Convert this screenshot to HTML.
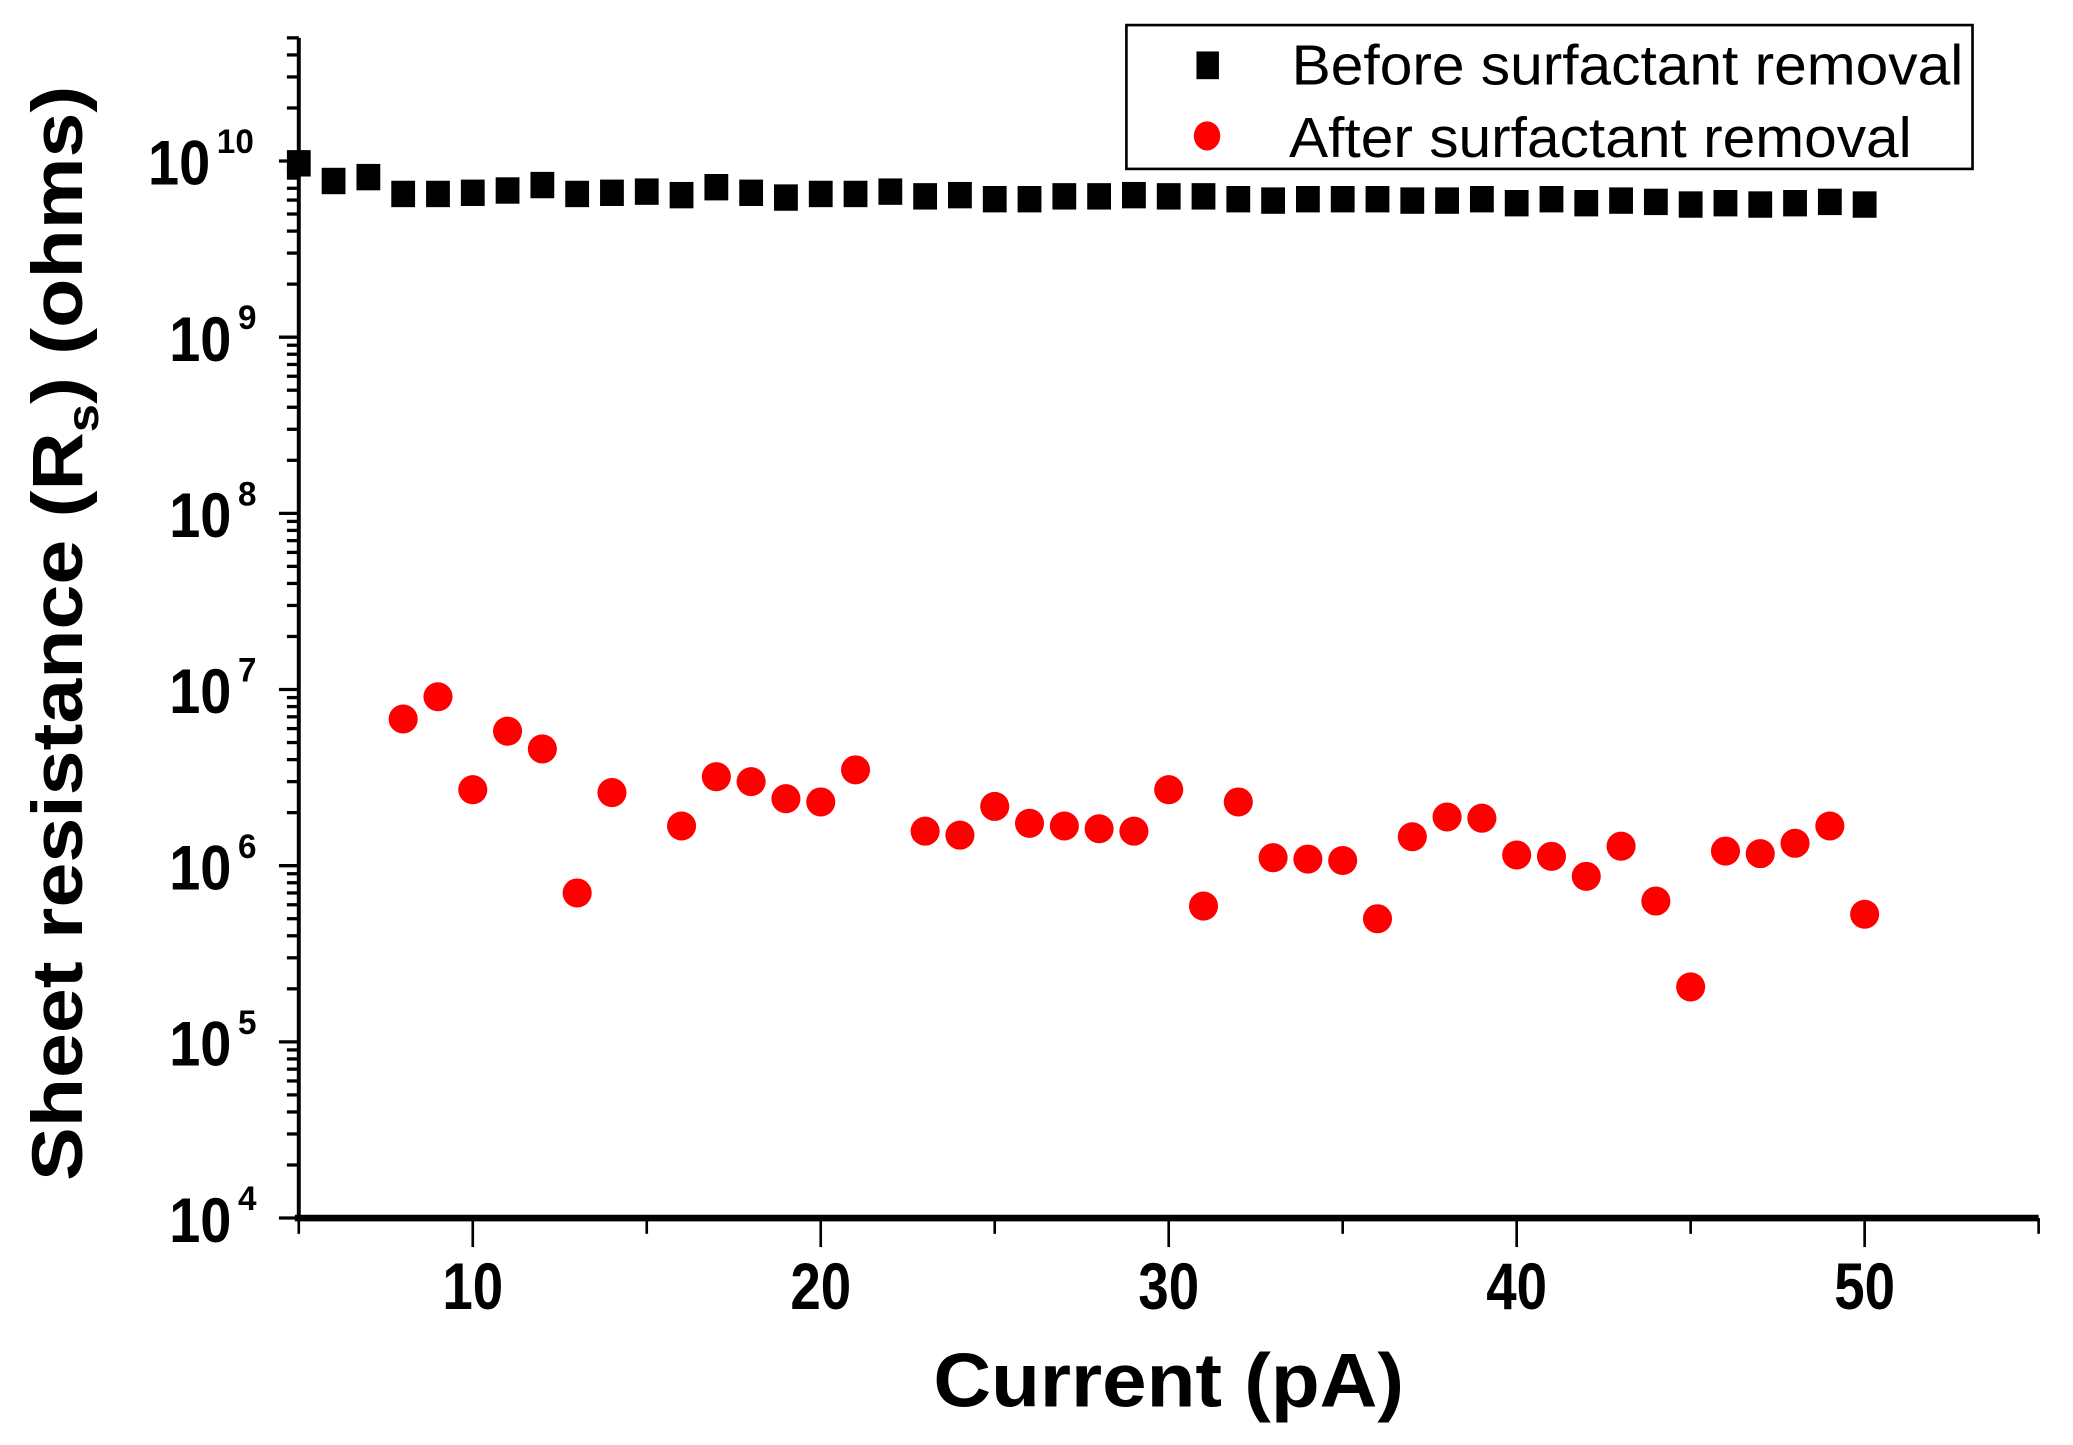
<!DOCTYPE html>
<html><head><meta charset="utf-8"><style>
html,body{margin:0;padding:0;background:#fff;}
svg{display:block;}
text{font-family:"Liberation Sans",Arial,sans-serif;}
</style></head><body>
<svg id="chart" width="2073" height="1445" viewBox="0 0 1568 1095" preserveAspectRatio="none" xmlns="http://www.w3.org/2000/svg">
<g id="axes"></g>
<g id="marks"></g>
<text x="884" y="1066" font-size="58" font-weight="bold" text-anchor="middle" textLength="356" lengthAdjust="spacingAndGlyphs">Current (pA)</text>
<text transform="translate(62,480) rotate(-90)" font-size="54" font-weight="bold" text-anchor="middle" textLength="830" lengthAdjust="spacingAndGlyphs">Sheet resistance (R<tspan font-size="34" dy="12">s</tspan><tspan dy="-12">) (ohms)</tspan></text>
<g>
<rect x="852" y="19" width="640" height="109" fill="#fff" stroke="#000" stroke-width="2"/>
<rect x="905" y="39" width="17" height="21" fill="#000"/>
<text x="977" y="64" font-size="43" textLength="508" lengthAdjust="spacingAndGlyphs">Before surfactant removal</text>
<ellipse cx="913" cy="103" rx="10" ry="11" fill="#ff0000"/>
<text x="975" y="119" font-size="43" textLength="471" lengthAdjust="spacingAndGlyphs">After surfactant removal</text>
</g>
</svg>
<script>
const currentX = [];
for (let i = 5; i <= 50; i++) currentX.push(i);
const beforeValues = [9.7e9,7.7e9,8.1e9,6.5e9,6.5e9,6.6e9,6.8e9,7.3e9,6.5e9,6.6e9,6.7e9,6.4e9,7.1e9,6.6e9,6.2e9,6.5e9,6.5e9,6.7e9,6.3e9,6.4e9,6.07e9,6.07e9,6.3e9,6.3e9,6.4e9,6.3e9,6.3e9,6.07e9,5.96e9,6.07e9,6.07e9,6.07e9,5.96e9,5.96e9,6.07e9,5.76e9,6.07e9,5.76e9,5.96e9,5.86e9,5.66e9,5.76e9,5.66e9,5.76e9,5.86e9,5.66e9];
const afterX = [8,9,10,11,12,13,14,16,17,18,19,20,21,23,24,25,26,27,28,29,30,31,32,33,34,35,36,37,38,39,40,41,42,43,44,45,46,47,48,49,50];
const afterValues = [6.8e6,9.1e6,2.7e6,5.8e6,4.6e6,7.0e5,2.6e6,1.68e6,3.2e6,3.0e6,2.4e6,2.3e6,3.5e6,1.57e6,1.49e6,2.17e6,1.74e6,1.68e6,1.62e6,1.57e6,2.7e6,5.9e5,2.3e6,1.11e6,1.09e6,1.07e6,5.0e5,1.46e6,1.89e6,1.86e6,1.15e6,1.13e6,8.7e5,1.29e6,6.3e5,2.05e5,1.21e6,1.17e6,1.34e6,1.68e6,5.3e5];
const xTickLabels = ["10","20","30","40","50"];
const yTickExponents = ["4","5","6","7","8","9","10"];

const NS = "http://www.w3.org/2000/svg";
const X0 = 226, X1 = 1542, XMIN = 5, XMAX = 55;
const Y4 = 923, DEC = 133.5;
function sx(v){ return X0 + (v - XMIN) / (XMAX - XMIN) * (X1 - X0); }
function sy(v){ return Y4 - (Math.log10(v) - 4) * DEC; }
function mk(tag, attrs, parent){ const e = document.createElementNS(NS, tag); for (const k in attrs) e.setAttribute(k, attrs[k]); parent.appendChild(e); return e; }

const axes = document.getElementById('axes');
const yTop = sy(5e10);
let l = mk('line', {x1:X0, y1:yTop, x2:X0, y2:Y4, stroke:'#000', 'stroke-width':3}, axes);


l = mk('line', {x1:X0-3, y1:Y4, x2:X1, y2:Y4, stroke:'#000', 'stroke-width':5}, axes);



for (let v = 5; v <= 55; v += 5) {
  const major = v % 10 === 0;
  const t = mk('line', {x1:sx(v), y1:Y4, x2:sx(v), y2:Y4 + (major ? 22 : 12), stroke:'#000', 'stroke-width':2}, axes);
  
  
}
xTickLabels.forEach(s => {
  const t = mk('text', {x:sx(+s), y:992, 'font-size':50, 'font-weight':'bold', 'text-anchor':'middle', textLength:46, lengthAdjust:'spacingAndGlyphs'}, axes);
  t.textContent = s;
  
  
});
for (let d = 4; d <= 10; d++) {
  for (let m = 1; m <= 9; m++) {
    const v = m * Math.pow(10, d);
    if (v > 5e10) continue;
    const major = m === 1;
    const t = mk('line', {x1:X0 - (major ? 15 : 9), y1:sy(v), x2:X0, y2:sy(v), stroke:'#000', 'stroke-width':2.5}, axes);
    
    
  }
}
yTickExponents.forEach(e => {
  const y = sy(Math.pow(10, +e));
  const right = e.length > 1 ? 159 : 175;
  const t = mk('text', {x: right, y: y + 18, 'font-size':48, 'font-weight':'bold', 'text-anchor':'end', textLength:47, lengthAdjust:'spacingAndGlyphs'}, axes);
  t.textContent = '10';
  
  
  const s = mk('text', {x: right + 5, y: y - 6, 'font-size':26, 'font-weight':'bold', 'text-anchor':'start', textLength: e.length > 1 ? 28 : 14, lengthAdjust:'spacingAndGlyphs'}, axes);
  s.textContent = e;
  
  
});

const marks = document.getElementById('marks');
currentX.forEach((x, i) => {
  const r = mk('rect', {x:sx(x) - 9, y:sy(beforeValues[i]) - 10, width:18, height:20, fill:'#000'}, marks);
  
  
});
afterX.forEach((x, i) => {
  const c = mk('ellipse', {cx:sx(x), cy:sy(afterValues[i]), rx:11, ry:11, fill:'#ff0000'}, marks);
  
  
});
</script>
</body></html>
